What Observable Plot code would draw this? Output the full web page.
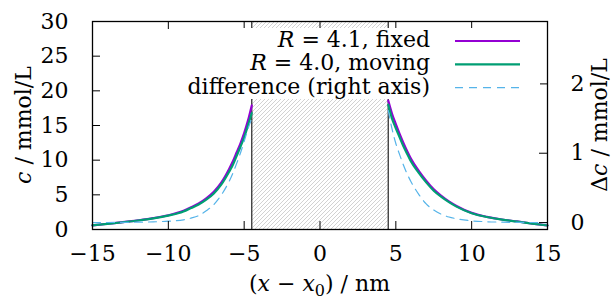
<!DOCTYPE html>
<html><head><meta charset="utf-8">
<script src="https://cdn.jsdelivr.net/npm/d3@7"></script>
<script src="https://cdn.jsdelivr.net/npm/@observablehq/plot@0.6"></script>
<style>
html,body{margin:0;padding:0;background:#fff;}
#chart svg, #chart svg text { font-family: "DejaVu Serif", "Liberation Serif", serif !important; }
</style>
</head><body><div id="chart"></div>
<script>
// distance from the particle centre (nm); left branch uses -d, right branch +d
const distances   = [4.5, 4.75, 5.0, 5.25, 5.5, 5.75, 6.0, 6.5, 7.0, 7.5, 8.0, 8.5, 9.0, 10, 11, 12, 13, 14, 15];
const fixedLeft   = [17.9, 15.7, 13.9, 12.4, 11.1, 9.8, 8.7, 6.8, 5.45, 4.5, 3.75, 3.2, 2.7, 2.05, 1.63, 1.32, 1.06, 0.83, 0.6];
const fixedRight  = [18.6, 16.7, 15.2, 13.8, 12.5, 11.3, 10.2, 8.5, 7.05, 5.8, 4.85, 4.05, 3.4, 2.4, 1.83, 1.44, 1.16, 0.86, 0.58];
const movingLeft  = [16.8, 15.0, 13.3, 11.9, 10.6, 9.3, 8.3, 6.5, 5.2, 4.3, 3.6, 3.1, 2.6, 2.0, 1.6, 1.3, 1.05, 0.82, 0.6];
const movingRight = [18.0, 16.0, 14.6, 13.3, 12.0, 10.9, 9.8, 8.2, 6.8, 5.6, 4.7, 3.95, 3.3, 2.35, 1.8, 1.42, 1.15, 0.85, 0.58];
const diffLeft    = [1.5, 1.35, 1.17, 1.0, 0.85, 0.71, 0.59, 0.40, 0.26, 0.17, 0.10, 0.065, 0.04, 0.02, 0.01, 0.005, 0.003, 0.001, 0.0];
const diffRight   = [1.62, 1.35, 1.14, 0.98, 0.83, 0.70, 0.59, 0.41, 0.27, 0.18, 0.12, 0.08, 0.055, 0.025, 0.012, 0.006, 0.003, 0.001, 0.0];

const xTicks  = [-15, -10, -5, 0, 5, 10, 15];
const yTicks  = [0, 5, 10, 15, 20, 25, 30];
const y2Ticks = [0, 1, 2];
const xDomain  = [-15, 15];
const yDomain  = [0, 30];
const y2Domain = [-0.1, 2.9];
const wallX = [-4.5, 4.5];
const legendLabels = [
  [["R", "i"], [" = 4.1, fixed", ""]],
  [["R", "i"], [" = 4.0, moving", ""]],
  [["difference (right axis)", ""]]
];
const xTitle  = [["(", ""], ["x", "i"], [" \u2212 ", ""], ["x", "i"], ["0", "sub"], [") / nm", ""]];
const yTitle  = [["c", "i"], [" / mmol/L", ""]];
const y2Title = [["\u0394", ""], ["c", "i"], [" / mmol/L", ""]];
const seriesColors = ["#9400d3", "#009e73", "#56b4e9"];

const toLeft   = v => yDomain[0] + (v - y2Domain[0]) * (yDomain[1] - yDomain[0]) / (y2Domain[1] - y2Domain[0]);
const fromLeft = c => y2Domain[0] + (c - yDomain[0]) * (y2Domain[1] - y2Domain[0]) / (yDomain[1] - yDomain[0]);

const rows = [];
distances.forEach((d, i) => {
  rows.push({side: "L", x: -d, fixed: fixedLeft[i], moving: movingLeft[i], diff: diffLeft[i]});
  rows.push({side: "R", x: d, fixed: fixedRight[i], moving: movingRight[i], diff: diffRight[i]});
});
rows.sort((a, b) => a.x - b.x);

const W = 612, H = 301, mL = 92, mR = 65, mT = 21, mB = 72;
const innerW = W - mL - mR, innerH = H - mT - mB;
const TICK = 8;
const FONT = "DejaVu Serif";
const FS = 22;
const minus = v => (v < 0 ? "\u2212" + Math.abs(v) : String(v));
const curve = "monotone-x";

const svg = Plot.plot({
  width: W, height: H,
  marginLeft: mL, marginRight: mR, marginTop: mT, marginBottom: mB,
  style: {fontFamily: FONT, fontSize: FS + "px", color: "black", background: "white", overflow: "visible"},
  x: {domain: xDomain},
  y: {domain: yDomain},
  marks: [
    Plot.rect([wallX], {x1: d => d[0], x2: d => d[1], fill: "url(#hatch)"}),
    Plot.ruleX(wallX, {stroke: "#333", strokeWidth: 1.3}),
    Plot.line(rows, {x: "x", y: "fixed", z: "side", stroke: seriesColors[0], strokeWidth: 2.2, curve}),
    Plot.line(rows, {x: "x", y: "moving", z: "side", stroke: seriesColors[1], strokeWidth: 2.2, curve}),
    Plot.line(rows, {x: "x", y: d => toLeft(d.diff), z: "side", stroke: seriesColors[2], strokeWidth: 1.2, strokeDasharray: "8,6", curve}),
    Plot.tickY(yTicks, {y: d => d, insetRight: innerW - TICK, stroke: "black"}),
    Plot.tickY(y2Ticks, {y: d => toLeft(d), insetLeft: innerW - TICK, stroke: "black"}),
    Plot.tickX(xTicks, {x: d => d, insetTop: innerH - TICK, stroke: "black"}),
    Plot.tickX(xTicks, {x: d => d, insetBottom: innerH - TICK, stroke: "black"}),
    Plot.axisY(yTicks, {tickSize: 0, tickPadding: 24, label: null}),
    Plot.axisY(y2Ticks.map(toLeft), {anchor: "right", tickSize: 0, tickPadding: 23, tickFormat: c => String(Math.round(fromLeft(c))), label: null}),
    Plot.axisX(xTicks, {tickSize: 0, tickPadding: 16, tickFormat: minus, label: null}),
    Plot.frame({stroke: "black", strokeWidth: 1.3})
  ]
});
document.getElementById("chart").appendChild(svg);

const ns = "http://www.w3.org/2000/svg";
function el(tag, attrs, parent) {
  const e = document.createElementNS(ns, tag);
  for (const k in attrs) if (attrs[k] != null) e.setAttribute(k, attrs[k]);
  if (parent) parent.appendChild(e);
  return e;
}
// lay out a label made of pieces as separate, start-anchored text elements
function placeLabel(parent, parts, x, y, align) {
  const items = parts.map(([text, kind]) => {
    const t = el("text", {x: 0, y: kind === "sub" ? y + 5 : y, "font-size": kind === "sub" ? Math.round(FS * 0.72) : FS,
      "font-style": kind === "i" ? "italic" : null, "text-anchor": "start", fill: "black",
      "font-family": FONT, "xml:space": "preserve"}, parent);
    t.style.whiteSpace = "pre";
    t.textContent = text;
    return t;
  });
  const widths = items.map(t => t.getComputedTextLength());
  const total = widths.reduce((a, b) => a + b, 0);
  let cx = align === "end" ? x - total : align === "middle" ? x - total / 2 : x;
  items.forEach((t, i) => { t.setAttribute("x", cx); cx += widths[i]; });
}

// hatch pattern
const defs = el("defs", {});
const pat = el("pattern", {id: "hatch", patternUnits: "userSpaceOnUse", width: 4, height: 4}, defs);
el("path", {d: "M-1,1 l2,-2 M0,4 l4,-4 M3,5 l2,-2", stroke: "#b4b4b4", "stroke-width": 0.6}, pat);
svg.insertBefore(defs, svg.firstChild);

// legend (opaque box, as in the original)
const lg = el("g", {}, svg);
el("rect", {x: 178, y: 28, width: 362, height: 71, fill: "white"}, lg);
legendLabels.forEach((parts, i) => {
  const by = 47 + i * 23.3;
  placeLabel(lg, parts, 430, by, "end");
  const ly = by - 6;
  el("line", {x1: 455, x2: 520, y1: ly, y2: ly, stroke: seriesColors[i],
    "stroke-width": i < 2 ? 2.2 : 1.2, "stroke-dasharray": i === 2 ? "8,6" : null}, lg);
});

// axis titles
placeLabel(svg, xTitle, mL + innerW / 2, 291, "middle");
const gy = el("g", {transform: `translate(31,${mT + innerH / 2}) rotate(-90)`}, svg);
placeLabel(gy, yTitle, 0, 0, "middle");
const gy2 = el("g", {transform: `translate(607,${mT + innerH / 2}) rotate(-90)`}, svg);
placeLabel(gy2, y2Title, 0, 0, "middle");
</script>
</body></html>
